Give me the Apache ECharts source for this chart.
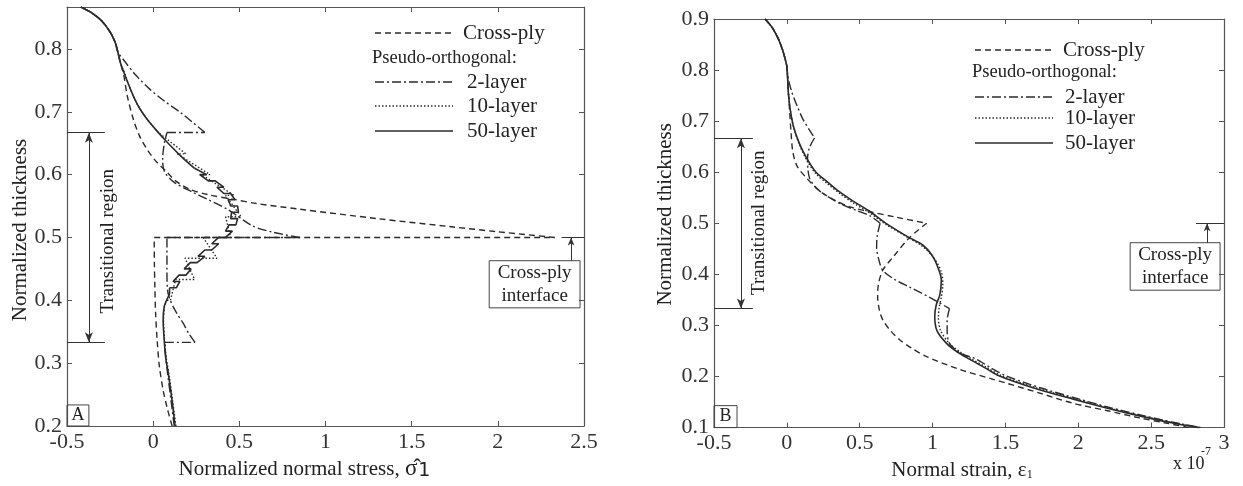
<!DOCTYPE html>
<html><head><meta charset="utf-8">
<script src="https://cdn.jsdelivr.net/npm/echarts@6/dist/echarts.min.js"></script>
<style>html,body{margin:0;padding:0;background:#fff}#c{width:1243px;height:486px}</style>
</head><body><div id="c"></div>
<script>
// ---------- tick labels ----------
const stressXTicks = ['-0.5','0','0.5','1','1.5','2','2.5'];
const stressYTicks = ['0.2','0.3','0.4','0.5','0.6','0.7','0.8'];
const stressYMax = 0.8667;
const strainXTicks = ['-0.5','0','0.5','1','1.5','2','2.5','3'];
const strainYTicks = ['0.1','0.2','0.3','0.4','0.5','0.6','0.7','0.8','0.9'];

// ---------- panel A: normalized normal stress vs thickness ----------
const stressTop = [[-0.205,0.795],[-0.22,0.81],[-0.25,0.827],[-0.30,0.845],[-0.36,0.858],[-0.42,0.8667]];
// Cross-ply
const stressCrossLower = [[0.11,0.2],[0.08,0.23],[0.058,0.257],[0.036,0.295],[0.023,0.337],[0.014,0.38],[0.01,0.42],[0.007,0.46],[0.006,0.5]];
const stressCrossUpper = [[2.33,0.5],[2.0,0.509],[1.73,0.517],[1.3,0.53],[0.85,0.545],[0.6,0.554],[0.46,0.561],[0.32,0.568],[0.21,0.577],[0.13,0.59],[0.08,0.604],[0.02,0.62],[-0.035,0.64],[-0.08,0.662],[-0.115,0.688],[-0.15,0.725],[-0.17,0.757],[-0.19,0.778],[-0.205,0.795]];
// 2-layer
const stress2Lower = [[0.122,0.2],[0.104,0.24],[0.083,0.285],[0.073,0.31],[0.068,0.333]];
const stress2Mid1 = [[0.243,0.333],[0.205,0.348],[0.173,0.364],[0.14,0.378],[0.116,0.39],[0.095,0.403],[0.083,0.417],[0.08,0.45],[0.08,0.5]];
const stress2Mid2 = [[0.85,0.5],[0.70,0.508],[0.58,0.518],[0.43,0.545],[0.32,0.56],[0.23,0.572],[0.12,0.588],[0.065,0.605],[0.055,0.625],[0.065,0.65],[0.08,0.667]];
const stress2Upper = [[0.30,0.667],[0.23,0.683],[0.153,0.70],[0.07,0.716],[-0.02,0.736],[-0.1,0.758],[-0.17,0.782],[-0.205,0.795]];
// 10-layer
const stress10Lower = [[0.132,0.2],[0.113,0.24],[0.09,0.285],[0.075,0.31],[0.066,0.337],[0.06,0.367],[0.066,0.39],[0.08,0.40]];
const stress10Steps = [[0.08,0.40],[0.10,0.40],[0.13,0.433],[0.24,0.433],[0.185,0.467],[0.37,0.467],[0.29,0.50],[0.45,0.50],[0.42,0.533],[0.51,0.533],[0.42,0.567],[0.47,0.567],[0.28,0.60],[0.33,0.60],[0.14,0.633],[0.19,0.633],[0.03,0.667]];
const stress10Upper = [[0.03,0.667],[-0.035,0.688],[-0.08,0.706],[-0.115,0.725],[-0.145,0.745],[-0.168,0.763],[-0.19,0.778],[-0.205,0.795]];
// 50-layer
const stress50Lower = [[0.127,0.2],[0.11,0.24],[0.087,0.285],[0.072,0.31],[0.064,0.337],[0.058,0.369],[0.064,0.39],[0.078,0.40],[0.095,0.41]];
const stress50Zigzag = [[0.095,0.42],[0.135,0.42],[0.155,0.43],[0.115,0.43],[0.15,0.44],[0.19,0.44],[0.22,0.45],[0.18,0.45],[0.215,0.46],[0.255,0.46],[0.30,0.47],[0.26,0.47],[0.30,0.48],[0.34,0.48],[0.38,0.49],[0.34,0.49],[0.38,0.50],[0.42,0.50],[0.46,0.51],[0.42,0.51],[0.44,0.52],[0.48,0.52],[0.49,0.53],[0.45,0.53],[0.455,0.54],[0.495,0.54],[0.49,0.55],[0.45,0.55],[0.435,0.56],[0.475,0.56],[0.45,0.57],[0.41,0.57],[0.37,0.58],[0.41,0.58],[0.36,0.59],[0.32,0.59],[0.27,0.60],[0.31,0.60]];
const stress50Upper = [[0.24,0.61],[0.17,0.627],[0.08,0.652],[0.02,0.67],[-0.035,0.688],[-0.08,0.706],[-0.115,0.725],[-0.145,0.745],[-0.17,0.763],[-0.19,0.778],[-0.205,0.795]];

// ---------- panel B: normal strain (x 1e-7) vs thickness ----------
const strainTop = [[-0.15,0.9],[-0.1,0.883],[-0.06,0.862],[-0.03,0.84],[-0.01,0.82],[0,0.807]];
const strainCrossUpper = [[0,0.807],[0.006,0.78],[0.01,0.757],[0.018,0.724],[0.028,0.68],[0.041,0.64],[0.07,0.612],[0.137,0.588],[0.226,0.563],[0.33,0.545],[0.432,0.532],[0.548,0.524],[0.75,0.512],[0.96,0.5]];
const strainCrossLower = [[0.96,0.5],[0.842,0.472],[0.726,0.433],[0.658,0.408],[0.628,0.38],[0.623,0.356],[0.635,0.33],[0.658,0.311],[0.71,0.29],[0.774,0.272],[0.86,0.255],[0.959,0.239],[1.185,0.214],[1.41,0.195],[1.507,0.187],[1.73,0.168],[1.96,0.148],[2.2,0.133],[2.42,0.119],[2.6,0.109],[2.76,0.1]];
const strain2A = [[0,0.807],[0.008,0.785],[0.034,0.757],[0.07,0.73],[0.11,0.704],[0.15,0.685],[0.19,0.667]];
const strain2B = [[0.19,0.667],[0.155,0.648],[0.142,0.627],[0.145,0.605],[0.156,0.588],[0.19,0.573],[0.226,0.563],[0.3,0.549],[0.384,0.536],[0.48,0.525],[0.568,0.515],[0.64,0.5]];
const strain2C = [[0.64,0.5],[0.62,0.475],[0.616,0.453],[0.63,0.43],[0.658,0.408],[0.74,0.39],[0.842,0.375],[0.98,0.355],[1.116,0.333]];
const strain2D = [[1.116,0.333],[1.10,0.31],[1.10,0.29],[1.116,0.265],[1.19,0.246],[1.30,0.234],[1.40,0.217],[1.507,0.201],[1.74,0.178],[1.99,0.157],[2.22,0.139],[2.44,0.124],[2.64,0.111],[2.84,0.1]];
const strain10 = [[0,0.807],[0.006,0.78],[0.01,0.757],[0.022,0.725],[0.045,0.69],[0.085,0.655],[0.14,0.622],[0.2,0.597],[0.28,0.577],[0.37,0.557],[0.46,0.539],[0.57,0.52],[0.69,0.496],[0.82,0.474],[0.93,0.455],[1.01,0.432],[1.06,0.405],[1.07,0.38],[1.06,0.355],[1.045,0.335],[1.04,0.315],[1.055,0.29],[1.115,0.265],[1.19,0.248],[1.27,0.234],[1.37,0.218],[1.47,0.202],[1.71,0.178],[1.97,0.157],[2.2,0.139],[2.42,0.124],[2.63,0.111],[2.83,0.1]];
const strain50 = [[0,0.807],[0.006,0.78],[0.01,0.757],[0.022,0.725],[0.045,0.69],[0.085,0.657],[0.137,0.627],[0.2,0.60],[0.274,0.582],[0.36,0.562],[0.452,0.544],[0.56,0.525],[0.68,0.50],[0.84,0.472],[0.93,0.458],[0.995,0.438],[1.035,0.415],[1.06,0.389],[1.05,0.36],[1.025,0.34],[1.015,0.318],[1.03,0.29],[1.096,0.265],[1.17,0.248],[1.253,0.234],[1.36,0.217],[1.459,0.201],[1.7,0.177],[1.96,0.156],[2.2,0.138],[2.42,0.123],[2.63,0.11],[2.83,0.1]];

// ---------- styles ----------
const F = '"Liberation Serif","Times New Roman",serif';
const INK = '#2b2b2b';
const FRAME = '#555';
const styles = {
  cross: {color: INK, width: 1.4, type: [6, 4]},
  two:   {color: INK, width: 1.4, type: [9, 3, 2, 3]},
  ten:   {color: INK, width: 1.4, type: [1.5, 2]},
  fifty: {color: INK, width: 1.6, type: 'solid'}
};

const series = [];
function addCurve(pieces, smoothFlags, style, ax) {
  pieces.forEach((p, i) => {
    series.push({type: 'line', xAxisIndex: ax, yAxisIndex: ax, data: p, symbol: 'none', showSymbol: false,
      smooth: smoothFlags[i] && p.length > 2 ? 0.3 : false, lineStyle: style, silent: true, animation: false});
    if (i < pieces.length - 1) {
      const a = p[p.length - 1], b = pieces[i + 1][0];
      if (a[0] !== b[0] || a[1] !== b[1]) {
        series.push({type: 'line', xAxisIndex: ax, yAxisIndex: ax, data: [a, b], symbol: 'none', showSymbol: false,
          smooth: false, lineStyle: style, silent: true, animation: false});
      }
    }
  });
}
// panel A (axes index 0)
addCurve([stressCrossLower, stressCrossUpper.concat(stressTop.slice(1))], [true, true], styles.cross, 0);
addCurve([stress2Lower, stress2Mid1, stress2Mid2, stress2Upper.concat(stressTop.slice(1))], [true, true, true, true], styles.two, 0);
addCurve([stress10Lower, stress10Steps, stress10Upper.concat(stressTop.slice(1))], [true, false, true], styles.ten, 0);
addCurve([stress50Lower, stress50Zigzag, stress50Upper.concat(stressTop.slice(1))], [true, false, true], styles.fifty, 0);
// panel B (axes index 2)
addCurve([strainTop.concat(strainCrossUpper.slice(1)), strainCrossLower], [true, true], styles.cross, 2);
addCurve([strainTop.concat(strain2A.slice(1)), strain2B, strain2C, strain2D], [true, true, true, true], styles.two, 2);
addCurve([strainTop.concat(strain10.slice(1))], [true], styles.ten, 2);
addCurve([strainTop.concat(strain50.slice(1))], [true], styles.fifty, 2);

// ---------- annotations (markers) ----------
const arrowEnd = {symbol: 'arrow', symbolSize: [6, 10]};
function markers(ax, o) {
  return {type: 'line', xAxisIndex: ax, yAxisIndex: ax, data: [], silent: true, animation: false,
    markLine: {silent: true, animation: false, symbol: ['none', 'none'], label: {show: false},
      lineStyle: {color: '#333', width: 1, type: 'solid'}, emphasis: {disabled: true},
      data: [
        [{coord: [-0.5, 2 / 3]}, {coord: [o.bx, 2 / 3]}],
        [{coord: [-0.5, 1 / 3]}, {coord: [o.bx, 1 / 3]}],
        [Object.assign({coord: [o.ax, 2 / 3]}, arrowEnd), Object.assign({coord: [o.ax, 1 / 3]}, arrowEnd)],
        [{coord: [o.ix1, 0.5]}, {coord: [o.ix2, 0.5]}],
        [{coord: [o.iax, o.boxTop]}, Object.assign({coord: [o.iax, 0.5]}, {symbol: 'arrow', symbolSize: [5, 8]})]
      ]},
    markArea: {silent: true, animation: false, emphasis: {disabled: true},
      itemStyle: {color: 'rgba(0,0,0,0)', borderColor: '#444', borderWidth: 1},
      label: {show: true, position: 'inside', color: '#222', fontFamily: F, fontSize: 19, lineHeight: 23},
      data: [
        [{coord: [o.boxL, o.boxTop], name: 'Cross-ply\ninterface'}, {coord: [o.boxR, o.boxBot]}],
        [{coord: [-0.5, o.letterTop], name: o.letter, label: {fontSize: 18}}, {coord: [o.letterR, o.letterBot]}]
      ]}
  };
}
series.push(markers(0, {bx: -0.28, ax: -0.373, ix1: 2.37, ix2: 2.5, iax: 2.425, boxL: 1.95, boxR: 2.477, boxTop: 0.463, boxBot: 0.388, letter: 'A', letterTop: 0.2335, letterBot: 0.2, letterR: -0.373}));
series.push(markers(2, {bx: -0.233, ax: -0.315, ix1: 2.808, ix2: 3, iax: 2.884, boxL: 2.356, boxR: 2.973, boxTop: 0.462, boxBot: 0.369, letter: 'B', letterTop: 0.143, letterBot: 0.1, letterR: -0.342}));

// ---------- axes ----------
function fmt(ticks) {
  return v => { const t = ticks.find(s => Math.abs(+s - v) < 1e-6); return t === undefined ? '' : t; };
}
const tickStyle = {show: true, inside: true, length: 5, lineStyle: {color: FRAME, width: 1}};
const lineStyleAx = {show: true, onZero: false, lineStyle: {color: FRAME, width: 1.2}};
const labelStyle = {color: '#333', fontFamily: F, fontSize: 22};
function axis(grid, pos, ticks, max, interval, withLabel, extra) {
  return Object.assign({
    type: 'value', gridIndex: grid, position: pos, min: +ticks[0], max: max, interval: interval,
    axisLine: lineStyleAx, axisTick: tickStyle, splitLine: {show: false},
    axisLabel: withLabel ? Object.assign({formatter: fmt(ticks), margin: 5}, labelStyle) : {show: false}
  }, extra || {});
}
const nameStyle = {color: '#222', fontFamily: F, fontSize: 21};
const option = {
  backgroundColor: '#fff',
  animation: false,
  grid: [
    {left: 67, top: 7, width: 517, height: 419},
    {left: 714, top: 19, width: 510, height: 413}
  ],
  xAxis: [
    axis(0, 'bottom', stressXTicks, 2.5, 0.5, true, {
      name: 'Normalized normal stress, {g|\u03C3\u0302}{n|1}', nameLocation: 'middle', nameGap: 30,
      nameTextStyle: Object.assign({padding: [0, 42, 0, 0], rich: {g: {fontFamily: F, fontSize: 23}, n: {fontFamily: '"DejaVu Sans", sans-serif', fontSize: 19, padding: [4, 0, 0, 1]}}}, nameStyle)}),
    axis(0, 'top', stressXTicks, 2.5, 0.5, false),
    axis(1, 'bottom', strainXTicks, 3, 0.5, true, {
      name: 'Normal strain, \u03B5{s|1}', nameLocation: 'middle', nameGap: 27,
      nameTextStyle: Object.assign({padding: [0, 14, 0, 0], rich: {s: {fontFamily: F, fontSize: 12, padding: [10, 0, 0, 0]}}}, nameStyle)}),
    axis(1, 'top', strainXTicks, 3, 0.5, false)
  ],
  yAxis: [
    axis(0, 'left', stressYTicks, stressYMax, 0.1, true, {
      name: 'Normalized thickness', nameLocation: 'middle', nameGap: 35,
      nameTextStyle: Object.assign({padding: [0, 27, 0, 0]}, nameStyle)}),
    axis(0, 'right', stressYTicks, stressYMax, 0.1, false),
    axis(1, 'left', strainYTicks, 0.9, 0.1, true, {
      name: 'Normalized thickness', nameLocation: 'middle', nameGap: 38,
      nameTextStyle: Object.assign({padding: [0, 0, 0, 18]}, nameStyle)}),
    axis(1, 'right', strainYTicks, 0.9, 0.1, false)
  ],
  series: series
};

const chart = echarts.init(document.getElementById('c'), null, {renderer: 'canvas'});
chart.setOption(option);

// ---------- text & legend graphics ----------
const toPx = (g, xy) => chart.convertToPixel({gridIndex: g}, xy);
const tA = toPx(0, [-0.263, 0.494]);
const tB = toPx(1, [-0.19, 0.501]);
function legend(x0, x1, tx, rows) {
  const out = [];
  const keys = ['cross', 'two', 'ten', 'fifty'];
  const labels = ['Cross-ply', '2-layer', '10-layer', '50-layer'];
  keys.forEach((k, i) => {
    const y = rows[i];
    const st = styles[k];
    out.push({type: 'line', silent: true, shape: {x1: x0, y1: y, x2: x1, y2: y},
      style: {stroke: st.color, lineWidth: st.width, lineDash: Array.isArray(st.type) ? st.type : null}});
    out.push({type: 'text', silent: true, x: tx[i], y: y,
      style: {text: labels[i], font: '21px ' + F, fill: '#222', textAlign: 'left', textVerticalAlign: 'middle'}});
  });
  return out;
}
const graphics = [
  {type: 'text', silent: true, x: tA[0], y: tA[1], rotation: Math.PI / 2,
    style: {text: 'Transitional region', font: '19px ' + F, fill: '#222', textAlign: 'center', textVerticalAlign: 'middle'}},
  {type: 'text', silent: true, x: tB[0], y: tB[1], rotation: Math.PI / 2,
    style: {text: 'Transitional region', font: '19px ' + F, fill: '#222', textAlign: 'center', textVerticalAlign: 'middle'}},
  {type: 'text', silent: true, x: 372, y: 58,
    style: {text: 'Pseudo-orthogonal:', font: '18.5px ' + F, fill: '#222', textAlign: 'left', textVerticalAlign: 'middle'}},
  {type: 'text', silent: true, x: 972, y: 72,
    style: {text: 'Pseudo-orthogonal:', font: '18.5px ' + F, fill: '#222', textAlign: 'left', textVerticalAlign: 'middle'}},
  {type: 'text', silent: true, x: 1173, y: 464,
    style: {text: 'x 10', font: '18px ' + F, fill: '#222', textAlign: 'left', textVerticalAlign: 'middle'}},
  {type: 'text', silent: true, x: 1201, y: 452,
    style: {text: '-7', font: '12px ' + F, fill: '#222', textAlign: 'left', textVerticalAlign: 'middle'}}
].concat(
  legend(375, 453, [463, 467, 467, 467], [33, 82, 106, 131]),
  legend(975, 1053, [1063, 1065, 1065, 1065], [50, 97, 118, 143])
);
chart.setOption({graphic: graphics});
</script>
</body></html>
